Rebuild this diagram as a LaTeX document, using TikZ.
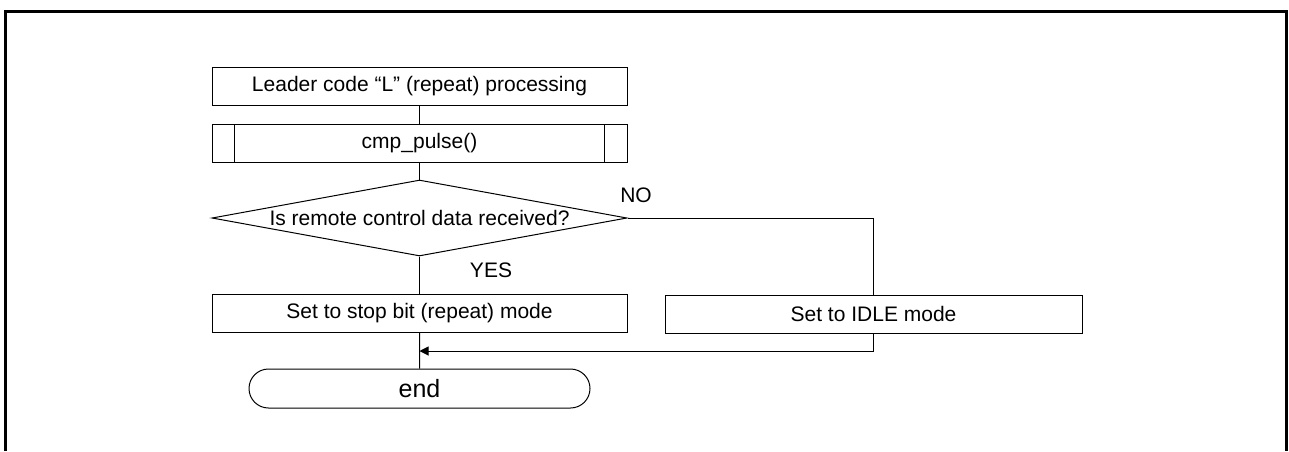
\documentclass[tikz,border=0pt]{standalone}
\usepackage{fontspec}
\setmainfont{Liberation Sans}
\usetikzlibrary{shapes.geometric,shapes.misc,arrows.meta}
\begin{document}
\begin{tikzpicture}[x=0.5pt,y=-0.5pt,
  every node/.style={font=\fontsize{10.5}{12}\selectfont},
  line/.style={line width=0.5pt,draw=black},
  procbox/.style={line, rectangle, inner sep=0pt, minimum width=207.5pt, minimum height=19pt},
  decbox/.style={line, diamond, aspect=5.46, inner sep=0pt, minimum width=207.5pt, minimum height=38pt},
  termbox/.style={line, rounded rectangle, inner sep=0pt, minimum width=170.5pt, minimum height=19.5pt, font=\fontsize{12.5}{14}\selectfont},
  lbl/.style={inner sep=0pt}
]
\useasboundingbox (0,0) rectangle (1289,451);
\draw[line width=1.5pt] (5.5,451) -- (5.5,11.5) -- (1286.5,11.5) -- (1286.5,451);

\node[procbox] (b1) at (419.5,86) {Leader code “L” (repeat) processing};
\node[procbox] (b2) at (419.5,143.5) {cmp\_pulse()};
\draw[line] ([xshift=11.5pt]b2.north west) -- ([xshift=11.5pt]b2.south west);
\draw[line] ([xshift=-11.5pt]b2.north east) -- ([xshift=-11.5pt]b2.south east);
\node[decbox] (d) at (419.5,218) {Is remote control data received?};
\node[procbox] (b3) at (419.5,313) {Set to stop bit (repeat) mode};
\node[procbox, minimum width=208.5pt] (b4) at (873.5,314) {Set to IDLE mode};
\node[termbox] (e) at (419.5,388.5) {end};

\node[lbl] (no) at (636,195) {NO};
\node[lbl] (yes) at (491,270) {YES};

\coordinate (m) at (419.5,351);

\draw[line] (b1) -- (b2);
\draw[line] (b2) -- (d);
\draw[line] (d) -- (b3);
\draw[line] (b3) -- (e);
\draw[line] (d.east) -| (b4.north);
\draw[line, -{Triangle[length=4.5pt,width=4.5pt]}] (b4.south) |- (m);
\end{tikzpicture}
\end{document}
